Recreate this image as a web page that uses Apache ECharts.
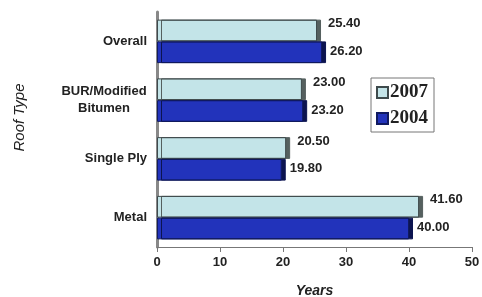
<!DOCTYPE html>
<html>
<head>
<meta charset="utf-8">
<script src="https://cdn.jsdelivr.net/npm/echarts@6/dist/echarts.min.js"></script>
<style>
  html, body { margin: 0; padding: 0; background: #fff; }
  #chart { width: 482px; height: 297px; }
</style>
</head>
<body>
<div id="chart"></div>
<script>
const categories = ['Overall', 'BUR/Modified\nBitumen', 'Single Ply', 'Metal']
const years2007 = [25.4, 23.0, 20.5, 41.6]
const years2004 = [26.2, 23.2, 19.8, 40.0]
const xTicks = [0, 10, 20, 30, 40, 50]

const myChart = echarts.init(document.getElementById('chart'))

const labelBase = {
  show: true,
  position: 'right',
  distance: 8,
  color: '#222',
  fontFamily: 'Liberation Sans, Arial',
  fontWeight: 'bold',
  fontSize: 13,
  formatter: p => p.value.toFixed(2)
}

const catFont = {
  fontFamily: 'Liberation Sans, Arial',
  fontWeight: 'bold',
  fontSize: 13,
  lineHeight: 17,
  color: '#222'
}

myChart.setOption({
  animation: false,
  grid: { left: 157, right: 10, top: 12, bottom: 50, outerBoundsMode: 'none' },
  legend: {
    orient: 'vertical',
    left: 371,
    top: 78,
    data: ['2007', '2004'],
    itemWidth: 11,
    itemHeight: 11,
    itemGap: 7,
    padding: [5, 6, 4, 5],
    borderColor: '#777',
    borderWidth: 1,
    icon: 'rect',
    textStyle: {
      fontFamily: 'Liberation Serif, Times New Roman',
      fontSize: 19,
      fontWeight: 'bold',
      color: '#222',
      padding: [0, 0, 0, -3]
    }
  },
  xAxis: {
    type: 'value',
    min: xTicks[0],
    max: xTicks[xTicks.length - 1],
    interval: 10,
    name: 'Years',
    nameLocation: 'middle',
    nameGap: 37,
    nameTextStyle: {
      fontFamily: 'Liberation Sans, Arial',
      fontStyle: 'italic',
      fontWeight: 'bold',
      fontSize: 14,
      color: '#222'
    },
    axisLine: { show: true, lineStyle: { color: '#777', width: 1 } },
    axisTick: { show: true, length: 5, lineStyle: { color: '#777' } },
    axisLabel: {
      margin: 9,
      fontFamily: 'Liberation Sans, Arial',
      fontWeight: 'bold',
      fontSize: 13,
      color: '#222'
    },
    splitLine: { show: false }
  },
  yAxis: {
    type: 'category',
    inverse: true,
    data: categories,
    name: 'Roof Type',
    nameLocation: 'middle',
    nameGap: 130,
    nameRotate: 90,
    nameTextStyle: {
      fontFamily: 'Liberation Sans, Arial',
      fontStyle: 'italic',
      fontSize: 15,
      color: '#222',
      padding: [0, 0, 0, 24]
    },
    axisLine: { show: true, lineStyle: { color: '#888', width: 3 } },
    axisTick: { show: false },
    axisLabel: {
      margin: 10,
      align: 'right',
      // two-line labels are centred line by line
      formatter: v => {
        const lines = v.split('\n')
        const tag = lines.length > 1 ? 'w' : 'c'
        return lines.map(s => '{' + tag + '|' + s + '}').join('\n')
      },
      rich: {
        c: catFont,
        w: Object.assign({}, catFont, { width: 86, align: 'center' })
      }
    }
  },
  series: [
    {
      name: '2007',
      type: 'bar',
      data: years2007,
      barGap: '0%',
      barCategoryGap: '26%',
      itemStyle: {
        color: '#c3e4e8',
        borderColor: '#3e4a4c',
        borderWidth: 1,
        shadowColor: '#55605f',
        shadowOffsetX: 4,
        shadowOffsetY: 0,
        shadowBlur: 0
      },
      label: Object.assign({}, labelBase, { offset: [3, -7] })
    },
    {
      name: '2004',
      type: 'bar',
      data: years2004,
      itemStyle: {
        color: '#2233bb',
        borderColor: '#101a60',
        borderWidth: 1,
        shadowColor: '#0c1450',
        shadowOffsetX: 4,
        shadowOffsetY: 0,
        shadowBlur: 0
      },
      label: Object.assign({}, labelBase, { offset: [0, -1] })
    }
  ]
})
</script>
</body>
</html>
